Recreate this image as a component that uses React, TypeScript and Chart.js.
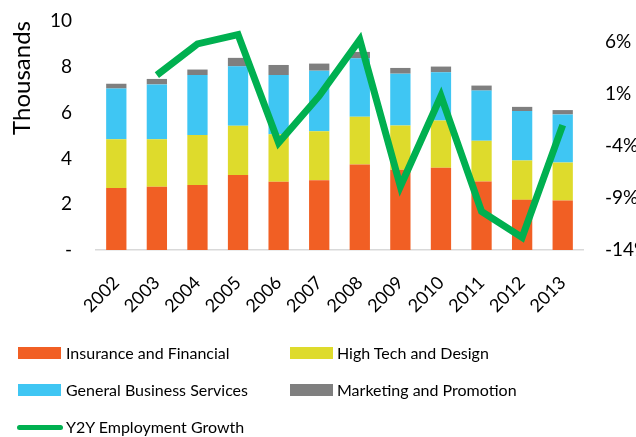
import React, { useEffect, useRef } from "react";
import { Chart, registerables } from "chart.js";

Chart.register(...registerables);

const years = ["2002", "2003", "2004", "2005", "2006", "2007", "2008", "2009", "2010", "2011", "2012", "2013"];
const insuranceFinancial = [2.71, 2.76, 2.84, 3.27, 2.98, 3.05, 3.73, 3.5, 3.59, 2.99, 2.19, 2.16];
const highTechDesign = [2.13, 2.08, 2.18, 2.16, 2.08, 2.14, 2.09, 1.94, 2.06, 1.78, 1.72, 1.66];
const generalBusiness = [2.21, 2.39, 2.62, 2.59, 2.58, 2.64, 2.55, 2.26, 2.11, 2.19, 2.16, 2.1];
const marketingPromotion = [0.21, 0.24, 0.24, 0.37, 0.44, 0.31, 0.28, 0.25, 0.25, 0.22, 0.18, 0.19];
const y2yGrowth = [null, 2.8, 5.8, 6.7, -3.7, 0.8, 6.2, -7.9, 0.8, -10.3, -12.8, -2.0];
const leftTicks = [0, 2, 4, 6, 8, 10];
const rightTicks = [-14, -9, -4, 1, 6];

const FONT = "Lato, 'Open Sans', sans-serif";
const COLORS = {
  orange: "#F15F24",
  yellow: "#DEDB2C",
  blue: "#3FC6F3",
  gray: "#7F7F7F",
  green: "#00B050",
};

export default function App() {
  const ref = useRef<HTMLCanvasElement>(null);

  useEffect(() => {
    document.body.style.margin = "0";
    const canvas = ref.current;
    if (!canvas) return;
    const chart = new Chart(canvas, {
      type: "bar",
      data: {
        labels: years,
        datasets: [
          {
            type: "line",
            label: "Y2Y Employment Growth",
            data: y2yGrowth,
            yAxisID: "y1",
            borderColor: COLORS.green,
            backgroundColor: COLORS.green,
            borderWidth: 7,
            pointRadius: 0,
            tension: 0,
            order: 0,
            borderJoinStyle: "miter",
          } as any,
          { label: "Insurance and Financial", data: insuranceFinancial, backgroundColor: COLORS.orange, order: 1, stack: "s" },
          { label: "High Tech and Design", data: highTechDesign, backgroundColor: COLORS.yellow, order: 1, stack: "s" },
          { label: "General Business Services", data: generalBusiness, backgroundColor: COLORS.blue, order: 1, stack: "s" },
          { label: "Marketing and Promotion", data: marketingPromotion, backgroundColor: COLORS.gray, order: 1, stack: "s" },
        ],
      },
      options: {
        responsive: false,
        animation: false,
        layout: { padding: { top: 21, bottom: 0, left: 0, right: 0 } },
        plugins: { legend: { display: false }, tooltip: { enabled: false } },
        datasets: { bar: { categoryPercentage: 1, barPercentage: 0.5 } },
        scales: {
          x: {
            stacked: true,
            grid: { display: false },
            border: { display: true, color: "#D9D9D9", width: 1.5 },
            ticks: {
              color: "#000",
              font: { family: FONT, size: 18 },
              minRotation: 45,
              maxRotation: 45,
              padding: 14,
            },
            afterFit: (s: any) => {
              s.height = 437 - 250;
              s.paddingLeft = 0;
              s.paddingRight = 0;
            },
          },
          y: {
            stacked: true,
            position: "left",
            min: 0,
            max: 10,
            grid: { display: false },
            border: { display: false },
            afterBuildTicks: (s: any) => {
              s.ticks = leftTicks.map((v) => ({ value: v }));
            },
            ticks: {
              color: "#000",
              font: { family: FONT, size: 19 },
              padding: 16,
              callback: (v: any) => (v === 0 ? "-" : String(v)),
            },
            title: {
              display: true,
              text: "Thousands",
              align: "end",
              color: "#000",
              font: { family: FONT, size: 24 },
              padding: { top: 8, bottom: 0 },
            },
            afterFit: (s: any) => {
              s.width = 96;
              s.paddingTop = 0;
              s.paddingBottom = 0;
            },
          },
          y1: {
            position: "right",
            min: -14,
            max: 8,
            grid: { display: false },
            border: { display: false },
            afterBuildTicks: (s: any) => {
              s.ticks = rightTicks.map((v) => ({ value: v }));
            },
            ticks: {
              color: "#000",
              font: { family: FONT, size: 19 },
              padding: 14,
              callback: (v: any) => v + "%",
            },
            afterFit: (s: any) => {
              s.width = 636 - 583;
              s.paddingTop = 0;
              s.paddingBottom = 0;
            },
          },
        },
      },
    });
    return () => chart.destroy();
  }, []);

  const legendText: React.CSSProperties = {
    position: "absolute",
    fontFamily: FONT,
    fontSize: 16,
    color: "#000",
    lineHeight: "20px",
    whiteSpace: "nowrap",
  };
  const swatch = (x: number, y: number, color: string) => (
    <div style={{ position: "absolute", left: x, top: y, width: 43, height: 12, background: color }} />
  );

  return (
    <div style={{ position: "relative", width: 636, height: 437, overflow: "hidden", background: "#fff" }}>
      <canvas ref={ref} width={636} height={437} style={{ position: "absolute", left: 0, top: 0 }} />
      {swatch(18, 347, COLORS.orange)}
      <div style={{ ...legendText, left: 66, top: 343 }}>Insurance and Financial</div>
      {swatch(290, 347, COLORS.yellow)}
      <div style={{ ...legendText, left: 337, top: 343 }}>High Tech and Design</div>
      {swatch(18, 384, COLORS.blue)}
      <div style={{ ...legendText, left: 66, top: 380 }}>General Business Services</div>
      {swatch(290, 384, COLORS.gray)}
      <div style={{ ...legendText, left: 337, top: 380 }}>Marketing and Promotion</div>
      <div style={{ position: "absolute", left: 17, top: 425, width: 46, height: 5, borderRadius: 3, background: COLORS.green }} />
      <div style={{ ...legendText, left: 66, top: 417 }}>Y2Y Employment Growth</div>
    </div>
  );
}
